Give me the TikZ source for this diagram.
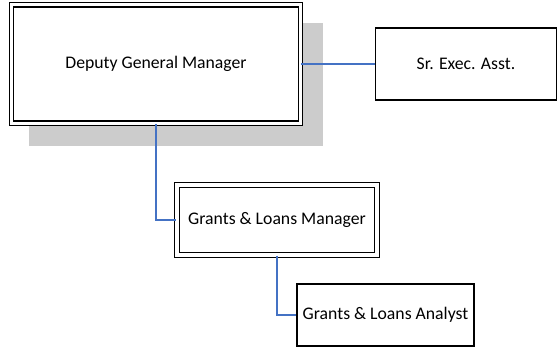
\documentclass[tikz,border=0pt]{standalone}
\usepackage{fontspec}
\setmainfont{Carlito}
\definecolor{linkblue}{RGB}{68,114,196}
\definecolor{shadowgray}{RGB}{204,204,204}
\begin{document}
\begin{tikzpicture}[x=1pt,y=-1pt,
  every node/.style={font=\fontsize{17.7}{21}\selectfont},
  headbox/.style={draw=black,rectangle,double,double distance=3.2pt,line width=1.3pt,fill=white,inner sep=0pt},
  plainbox/.style={draw=black,rectangle,line width=1.3pt,fill=white,inner sep=0pt},
  link/.style={draw=linkblue,line width=1.5pt}]
\useasboundingbox (0,0) rectangle (559,352);
% drop shadow behind the top box
\fill[shadowgray] (29,23) rectangle (323,146);
% boxes
\node[headbox,minimum width=289pt,minimum height=118.5pt] (dgm) at (156,64) {Deputy General Manager};
\node[plainbox,minimum width=181pt,minimum height=72pt] (sea) at (466,64) {Sr. Exec. Asst.};
\node[headbox,minimum width=200pt,minimum height=70pt] (glm) at (277,220) {Grants \& Loans Manager};
\node[plainbox,minimum width=177pt,minimum height=62pt] (gla) at (385.5,315) {Grants \& Loans Analyst};
% reporting lines
\draw[link] (dgm.east) -- (sea.west);
\draw[link] (dgm.south) |- (glm.west);
\draw[link] (glm.south) |- (gla.west);
\end{tikzpicture}
\end{document}
